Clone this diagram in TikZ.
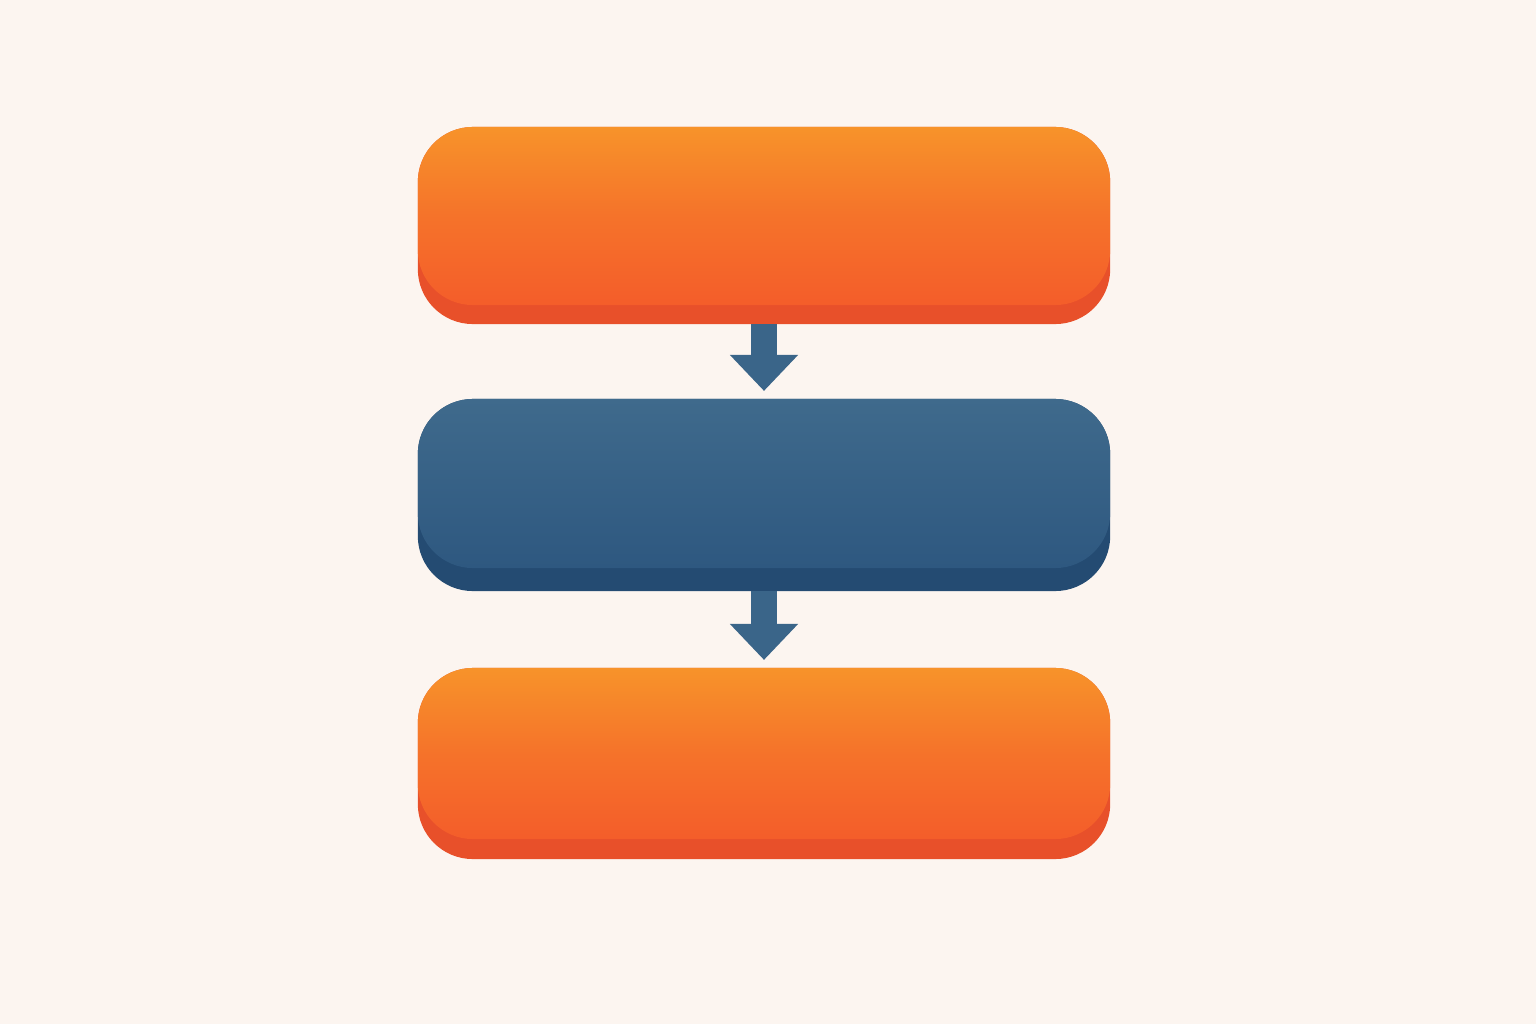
\documentclass[tikz,border=0pt]{standalone}
\usetikzlibrary{arrows.meta}
\definecolor{bg}{HTML}{FCF5F0}
\definecolor{orTop}{HTML}{F7932A}
\definecolor{orBot}{HTML}{F45D2A}
\definecolor{orLip}{HTML}{E8502A}
\definecolor{blTop}{HTML}{3F6A8C}
\definecolor{blBot}{HTML}{2E5880}
\definecolor{blLip}{HTML}{244B72}
\definecolor{arr}{HTML}{3A6589}
\tikzset{
  boxbase/.style={rectangle, rounded corners=0.55cm, inner sep=0pt, outer sep=0pt, minimum width=6.92cm, draw=none},
  orlip/.style={boxbase, fill=orLip},
  orface/.style={boxbase, top color=orTop, bottom color=orBot, middle color=orBot!60!orTop},
  bllip/.style={boxbase, fill=blLip},
  blface/.style={boxbase, top color=blTop, bottom color=blBot},
  flowarrow/.style={draw=arr, line width=0.26cm, -{Triangle[width=0.66cm,length=0.36cm]}, shorten >=0.08cm}
}
\begin{document}
\begin{tikzpicture}[x=0.01cm,y=-0.01cm]
\fill[bg] (0,0) rectangle (1536,1024);
\useasboundingbox (0,0) rectangle (1536,1024);
% box 1
\node[orlip, minimum height=1.97cm] (b1) at (764,225.5) {};
\node[orface, minimum height=1.78cm] (f1) at (764,216) {};
% box 2
\node[bllip, minimum height=1.92cm] (b2) at (764,495) {};
\node[blface, minimum height=1.69cm] (f2) at (764,483.5) {};
% box 3
\node[orlip, minimum height=1.91cm] (b3) at (764,763.5) {};
\node[orface, minimum height=1.71cm] (f3) at (764,753.5) {};
% arrows
\draw[flowarrow] (b1.south) -- (b2.north);
\draw[flowarrow] (b2.south) -- (b3.north);
\end{tikzpicture}
\end{document}
